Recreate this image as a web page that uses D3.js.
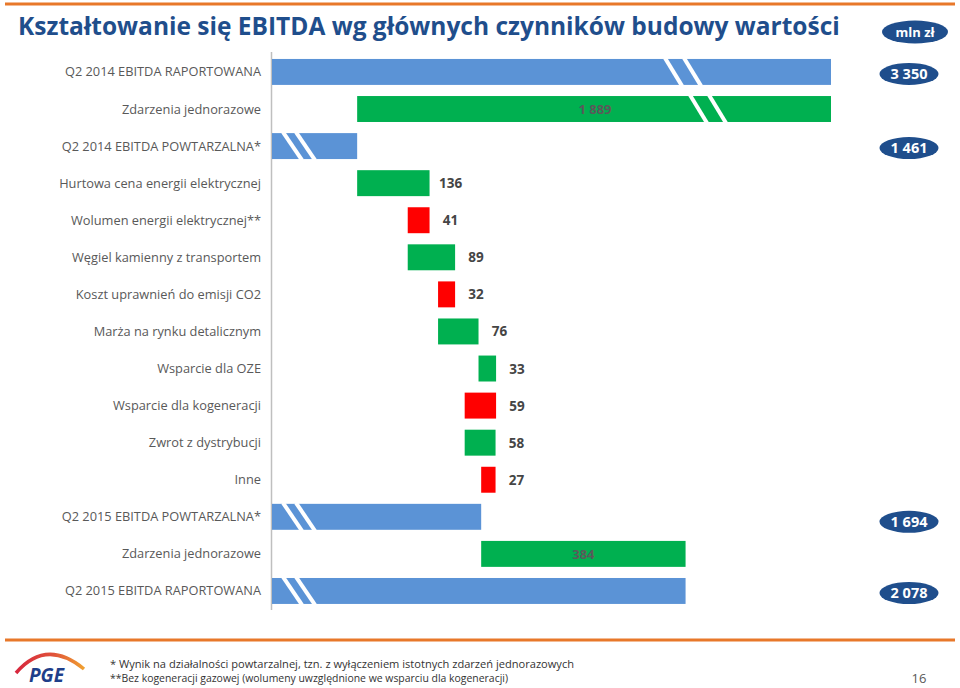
<!DOCTYPE html>
<html><head><meta charset="utf-8">
<script src="https://cdn.jsdelivr.net/npm/d3@7"></script>
<style>body{margin:0;background:#fff}svg{display:block}</style>
</head><body><svg id="c" width="960" height="688"></svg>
<script>
const title = "Kształtowanie się EBITDA wg głównych czynników budowy wartości";
const unitLabel = "mln zł";
const categories = [
  "Q2 2014 EBITDA RAPORTOWANA","Zdarzenia jednorazowe","Q2 2014 EBITDA POWTARZALNA*",
  "Hurtowa cena energii elektrycznej","Wolumen energii elektrycznej**","Węgiel kamienny z transportem",
  "Koszt uprawnień do emisji CO2","Marża na rynku detalicznym","Wsparcie dla OZE",
  "Wsparcie dla kogeneracji","Zwrot z dystrybucji","Inne",
  "Q2 2015 EBITDA POWTARZALNA*","Zdarzenia jednorazowe","Q2 2015 EBITDA RAPORTOWANA"];
// signed flow from row to row (top to bottom)
const values = [3350, -1889, 1461, 136, -41, 89, -32, 76, 33, -59, 58, -27, 1694, 384, 2078];
const kinds  = ["total","oneoff","total","gain","loss","gain","loss","gain","gain","loss","gain","loss","total","oneoff","total"];
const footnotes = [
  "* Wynik na działalności powtarzalnej, tzn. z wyłączeniem istotnych zdarzeń jednorazowych",
  "**Bez kogeneracji gazowej (wolumeny uwzględnione we wsparciu dla kogeneracji)"];
const pageNumber = "16";

const colors = {total:"#5B93D6", oneoff:"#00B050", gain:"#00B050", loss:"#FF0000"};
const navy = "#1F4E8C";
const fmt = v => d3.format(",")(v).replace(/,/g, " ");

// build waterfall rows
let level = 0;
const rows = values.map((v, i) => {
  let a, b;
  if (kinds[i] === "total") { a = 0; b = v; level = v; }
  else { a = level; b = level + v; level = b; }
  return {i, cat: categories[i], v, kind: kinds[i], lo: Math.min(a, b), hi: Math.max(a, b)};
});

const svg = d3.select("#c");
// broken value axis: zero..1301 collapsed at axis, 2110..3109 hidden behind break marks
const x = d3.scaleLinear().domain([1301, 2110, 3109, 3350]).range([272, 702.6, 702.6, 831]).clamp(true);
const y = d3.scaleBand().domain(d3.range(categories.length)).range([53.4, 609.5]).paddingInner(0.3).paddingOuter(0.15);

// top / bottom orange rules
svg.append("line").attr("x1",5).attr("x2",955).attr("y1",4).attr("y2",4).attr("stroke","#E8782A").attr("stroke-width",3);
svg.append("line").attr("x1",5).attr("x2",955).attr("y1",640).attr("y2",640).attr("stroke","#E8782A").attr("stroke-width",3);

// title
svg.append("text").attr("x",18).attr("y",35).text(title)
  .attr("font-family","'Open Sans', sans-serif").attr("font-weight",700).attr("font-size",24.5).attr("fill","#1F4E8C");

// unit badge
svg.append("ellipse").attr("cx",915).attr("cy",32).attr("rx",33).attr("ry",11.5).attr("fill",navy);
svg.append("text").attr("x",915).attr("y",37).attr("text-anchor","middle").text(unitLabel)
  .attr("font-family","'Open Sans', sans-serif").attr("font-weight",700).attr("font-size",13).attr("fill","#fff");

// axis line
svg.append("line").attr("x1",271.5).attr("x2",271.5).attr("y1",52).attr("y2",610).attr("stroke","#BFBFBF").attr("stroke-width",1.5);

// category labels
svg.append("g").selectAll("text").data(rows).join("text")
  .attr("x",261).attr("y",d => y(d.i) + y.bandwidth()/2 + 4.5).attr("text-anchor","end")
  .attr("font-family","'Open Sans', sans-serif").attr("font-size",12.8).attr("fill","#595959")
  .text(d => d.cat);

// bars
svg.append("g").selectAll("rect").data(rows).join("rect")
  .attr("x", d => x(d.lo)).attr("width", d => x(d.hi) - x(d.lo))
  .attr("y", d => y(d.i)).attr("height", y.bandwidth())
  .attr("fill", d => colors[d.kind]);

// break marks
function brk(i, x0, gap, slant) {
  const t = y(i) - 1, b = y(i) + y.bandwidth() + 1;
  [0, gap].forEach(o => svg.append("line")
    .attr("x1", x0 + o).attr("y1", t).attr("x2", x0 + o + slant).attr("y2", b)
    .attr("stroke","#fff").attr("stroke-width",4));
}
rows.forEach(d => {
  if (d.kind === "total" && d.v > 1301 && d.v <= 3109) brk(d.i, 283, 13, 19);
  if (d.hi > 3109) brk(d.i, d.kind === "total" ? 665 : 690, 19, 17);
});

// value labels for drivers
svg.append("g").selectAll("text").data(rows.filter(d => d.kind === "gain" || d.kind === "loss")).join("text")
  .attr("x", d => x(d.hi) + 21).attr("y", d => y(d.i) + y.bandwidth()/2 + 5).attr("text-anchor","middle")
  .attr("font-family","'Open Sans', sans-serif").attr("font-weight",700).attr("font-size",13.5).attr("fill","#454545")
  .text(d => fmt(Math.abs(d.v)));

// one-off labels inside bars
svg.append("g").selectAll("text").data(rows.filter(d => d.kind === "oneoff")).join("text")
  .attr("x", d => d.hi > 3109 ? 595 : (x(d.lo) + x(d.hi))/2).attr("y", d => y(d.i) + y.bandwidth()/2 + 5)
  .attr("text-anchor","middle")
  .attr("font-family","'Open Sans', sans-serif").attr("font-weight",700).attr("font-size",13).attr("fill","#5A5A5A")
  .text(d => fmt(Math.abs(d.v)));

// total badges
const tot = svg.append("g").selectAll("g").data(rows.filter(d => d.kind === "total")).join("g")
  .attr("transform", d => `translate(909,${y(d.i) + y.bandwidth()/2 + (d.i === 12 ? 5 : 2)})`);
tot.append("ellipse").attr("rx",29.5).attr("ry",11).attr("fill",navy);
tot.append("text").attr("y",5).attr("text-anchor","middle")
  .attr("font-family","'Open Sans', sans-serif").attr("font-weight",700).attr("font-size",14.5).attr("fill","#fff")
  .text(d => fmt(d.v));

// footer logo
const defs = svg.append("defs");
const gr = defs.append("linearGradient").attr("id","arcg").attr("x1","0").attr("x2","1");
gr.append("stop").attr("offset","0").attr("stop-color","#D7263D");
gr.append("stop").attr("offset","0.55").attr("stop-color","#E0523A");
gr.append("stop").attr("offset","1").attr("stop-color","#F0A030");
svg.append("path").attr("d","M16,673 Q46,638 84,669").attr("fill","none").attr("stroke","url(#arcg)").attr("stroke-width",3.5);
svg.append("text").attr("x",29).attr("y",682).text("PGE")
  .attr("font-family","'Open Sans', sans-serif").attr("font-weight",700).attr("font-style","italic").attr("font-size",19).attr("fill","#1F3F8A");

// footnotes
svg.append("g").selectAll("text").data(footnotes).join("text")
  .attr("x",110).attr("y",(d,i) => 668 + i*14)
  .attr("font-family","'Open Sans', sans-serif").attr("font-size",11).attr("fill","#333")
  .attr("textLength",(d,i) => i === 0 ? 464 : 398).attr("lengthAdjust","spacingAndGlyphs")
  .text(d => d);

svg.append("text").attr("x",919).attr("y",683).attr("text-anchor","middle").text(pageNumber)
  .attr("font-family","'Open Sans', sans-serif").attr("font-size",13).attr("fill","#595959");
</script></body></html>
